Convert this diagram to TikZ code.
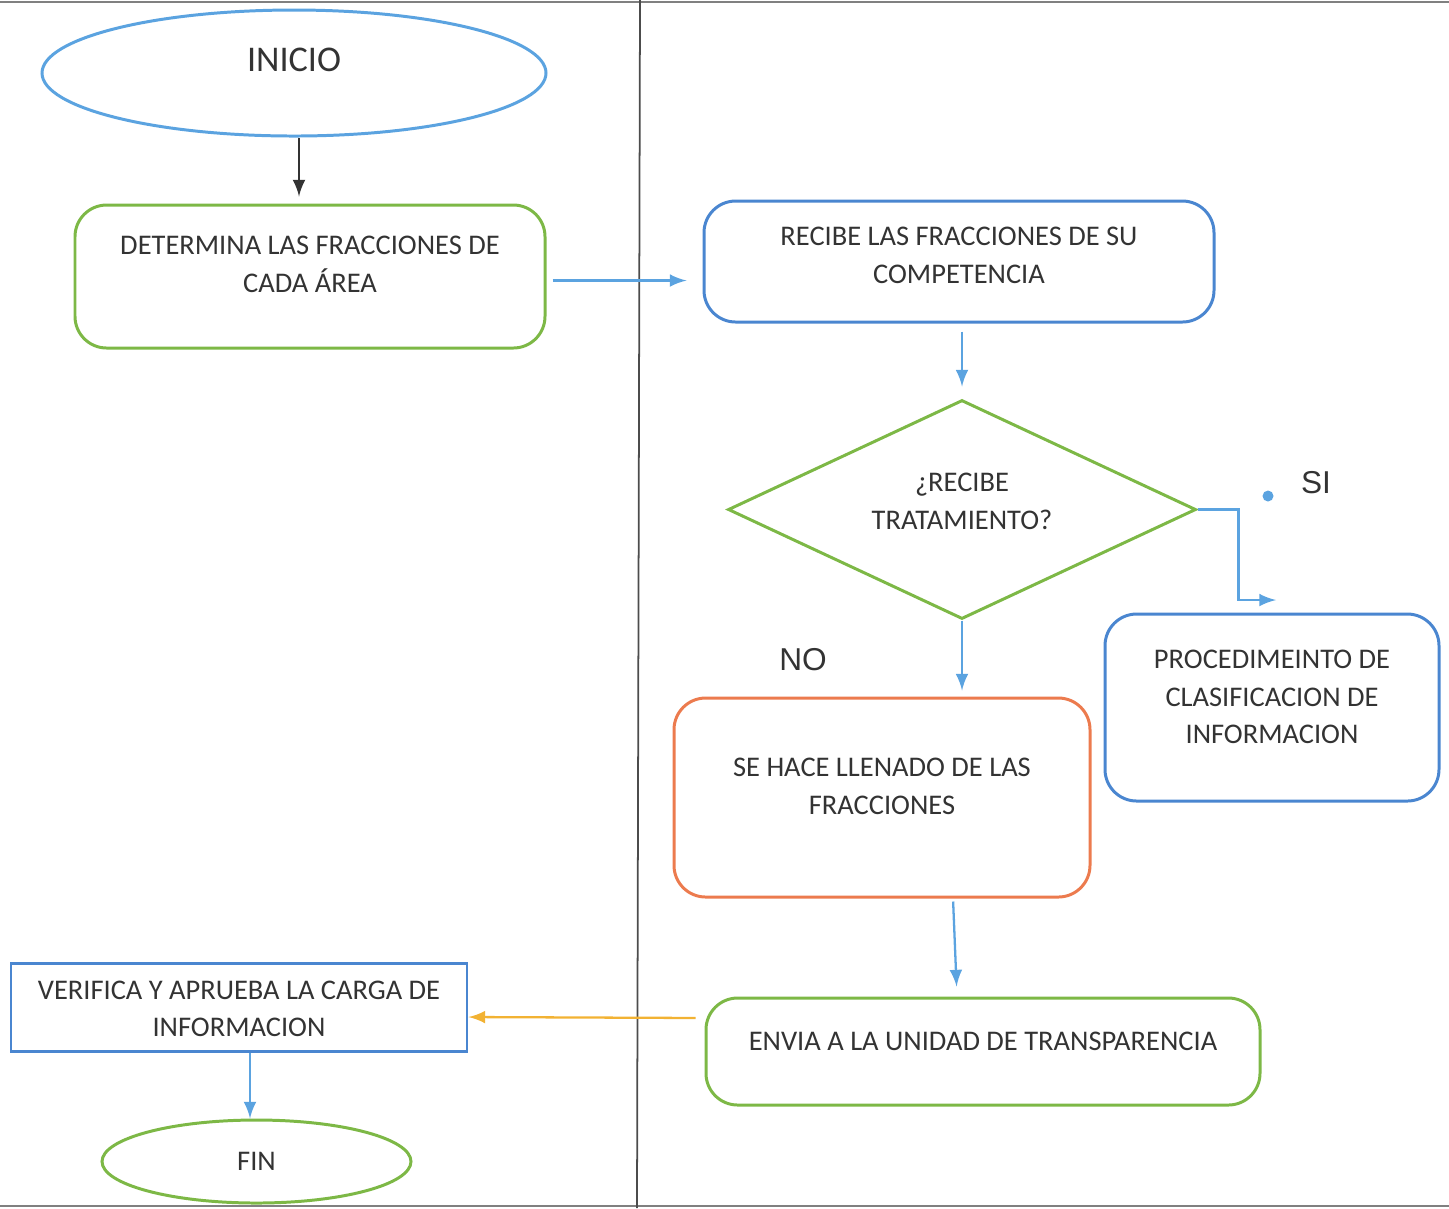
\documentclass[tikz,border=0pt]{standalone}
\usepackage{fontspec}
\setmainfont{Carlito}
\newfontfamily\labelfont{Liberation Sans}
\usetikzlibrary{shapes.geometric}

\definecolor{lblue}{HTML}{5BA3E0}
\definecolor{dblue}{HTML}{4A86D0}
\definecolor{lgreen}{HTML}{7DB846}
\definecolor{lorange}{HTML}{EC7B4E}
\definecolor{lyellow}{HTML}{F2B233}
\definecolor{txtgray}{HTML}{333333}

\begin{document}
\begin{tikzpicture}[txt/.style={align=center, text=txtgray, font=\fontsize{8.1}{10.7}\selectfont}, box/.style={draw, rectangle, rounded corners=9pt, line width=0.85pt}, oval/.style={draw, ellipse, line width=0.85pt}, n/.style={-latex, line width=0.65pt, lblue}, side/.style={font=\labelfont\fontsize{9}{11}\selectfont, text=txtgray}]
            \useasboundingbox (0,0) rectangle (14.49,-12.08);
            % frame
            \draw[gray, line width=0.6pt] (0,-0.02) -- (14.49,-0.02);
            \draw[gray, line width=0.6pt] (0,-12.06) -- (14.49,-12.06);
            \draw[black!70, line width=0.5pt] (6.40,0) -- (6.37,-12.08);
            % nodes
            \node[oval, lblue, minimum width=5.04cm, minimum height=1.26cm, label={[txt, font=\fontsize{10.3}{12}\selectfont, yshift=1.3mm]center:INICIO}] (inicio) at (2.94,-0.73) {};
            \node[box, lgreen, minimum width=4.70cm, minimum height=1.43cm, label={[txt, yshift=1.2mm]center:DETERMINA LAS FRACCIONES DE\\CADA ÁREA}] (det) at (3.10,-2.765) {};
            \node[box, dblue, minimum width=5.10cm, minimum height=1.21cm, label={[txt, yshift=0.6mm]center:RECIBE LAS FRACCIONES DE SU\\COMPETENCIA}] (rec) at (9.59,-2.615) {};
            \node[diamond, draw, lgreen, line width=0.85pt, minimum width=4.68cm, minimum height=2.19cm, inner sep=0pt, label={[txt, yshift=0.8mm]center:¿RECIBE\\TRATAMIENTO?}] (dia) at (9.62,-5.095) {};
            \node[box, dblue, minimum width=3.34cm, minimum height=1.87cm, label={[txt, yshift=1.05mm]center:PROCEDIMEINTO DE\\CLASIFICACION DE\\INFORMACION}] (proc) at (12.72,-7.075) {};
            \node[box, lorange, minimum width=4.16cm, minimum height=1.99cm, label={[txt, yshift=1.1mm]center:SE HACE LLENADO DE LAS\\FRACCIONES}] (llen) at (8.82,-7.975) {};
            \node[box, lgreen, minimum width=5.54cm, minimum height=1.07cm, label={[txt, yshift=1.05mm]center:ENVIA A LA UNIDAD DE TRANSPARENCIA}] (envia) at (9.83,-10.515) {};
            \node[draw, rectangle, dblue, line width=0.85pt, minimum width=4.56cm, minimum height=0.88cm, label={[txt, yshift=-0.2mm]center:VERIFICA Y APRUEBA LA CARGA DE\\INFORMACION}] (verif) at (2.39,-10.07) {};
            \node[oval, lgreen, minimum width=3.09cm, minimum height=0.83cm, label={[txt]center:FIN}] (fin) at (2.565,-11.615) {};
            % labels
            \node[side] (si) at (13.16,-4.83) {SI};
            \node[side] (no) at (8.03,-6.60) {NO};
            \node[circle, fill=lblue, inner sep=0pt, minimum size=1.1mm] (dot) at (12.68,-4.96) {};
            \coordinate (siend) at (12.76,-6.00);
            % edges
            \draw[-latex, line width=0.65pt, black!80, shorten >=0.07cm] ([xshift=0.5mm]inicio.south) -- ([xshift=0.5mm]inicio.south |- det.north);
            \draw[n, shorten <=0.06cm, shorten >=0.16cm] ([yshift=-0.4mm]det.east) -- ([yshift=-0.4mm]rec.west |- det.east);
            \draw[n, shorten <=0.08cm, shorten >=0.12cm] (rec.south -| dia.north) -- (dia.north);
            \draw[n] (dia.east) -- ++(0.41,0) |- (siend);
            \draw[n, shorten >=0.06cm] (dia.south) -- (dia.south |- llen.north);
            \draw[n, shorten <=0.03cm, shorten >=0.10cm] ([xshift=7.1mm]llen.south) -- ([xshift=-2.6mm]envia.north);
            \draw[-latex, line width=0.65pt, lyellow, shorten <=0.09cm] ([yshift=3.35mm]envia.west) -- ([yshift=-1mm]verif.east);
            \draw[n] ([xshift=1.1mm]verif.south) -- ([xshift=1.1mm]verif.south |- fin.north);
        \end{tikzpicture}
\end{document}
